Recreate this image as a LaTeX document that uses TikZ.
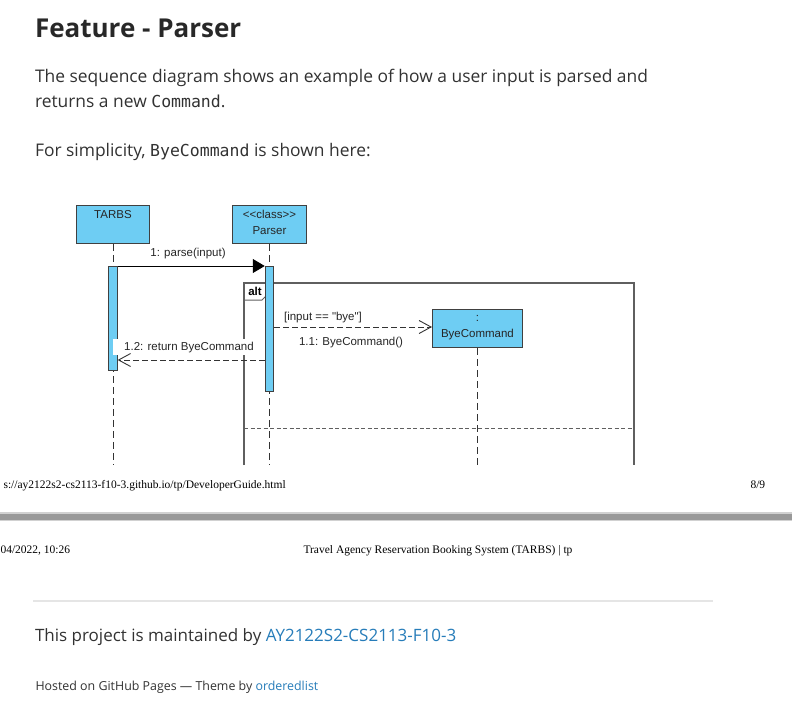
\documentclass[tikz,border=0pt]{standalone}
\usepackage{fontspec}
\setmainfont{Open Sans}
\newfontfamily\diagfont{Liberation Sans}
\newfontfamily\printfont{Liberation Serif}
\newfontfamily\codefont{DejaVu Sans Mono}
\usetikzlibrary{arrows.meta,positioning,calc}
\definecolor{lifeblue}{RGB}{110,205,243}
\definecolor{linkblue}{RGB}{38,124,185}
\definecolor{bodytext}{RGB}{50,50,50}
\definecolor{titletext}{RGB}{40,40,40}
\definecolor{framegray}{RGB}{95,95,95}

\begin{document}
\begin{tikzpicture}[x=1pt, y=-1pt,
    lifebox/.style={draw=black!75, fill=lifeblue, line width=0.9pt, inner sep=0pt, anchor=north west},
    actbox/.style={lifebox, minimum width=8.5pt},
    lifeline/.style={draw=black!80, line width=0.9pt, dash pattern=on 7pt off 4pt},
    dfont/.style={font=\diagfont\fontsize{11.5}{13}\selectfont, text=black!85},
    callmsg/.style={draw=black, line width=0.9pt, -{Triangle[length=12pt,width=14pt]}},
    replymsg/.style={draw=black!80, line width=0.9pt, dash pattern=on 6pt off 3pt, -{Straight Barb[length=12pt,width=13pt]}},
    bodyline/.style={anchor=base west, text=bodytext, font=\fontsize{17.4}{21}\selectfont},
    printline/.style={anchor=base west, text=black, font=\printfont\fontsize{11.5}{13}\selectfont}]
    \useasboundingbox (0,0) rectangle (792,706);

    % page text above the diagram
    \node[anchor=base west, text=titletext, font=\bfseries\fontsize{26}{31}\selectfont] (title) at (31.5,38) {Feature - Parser};
    \node[bodyline] (para1) at (31.5,83) {The sequence diagram shows an example of how a user input is parsed and};
    \node[bodyline] (para2) at (31.5,108) {returns a new {\codefont\fontsize{16.5}{20}\selectfont Command}.};
    \node[bodyline] (para3) at (31.5,157) {For simplicity, {\codefont\fontsize{16.5}{20}\selectfont ByeCommand} is shown here:};

    % sequence diagram
    \coordinate (cut) at (0,465);
    \draw[framegray, line width=1.1pt] (244,465) -- (244,283) -- (634,283) -- (634,465);
    \draw[framegray, line width=1pt] (244,300) -- (262,300) -- (268,294) -- (268,283);
    \node[font=\diagfont\bfseries\fontsize{11.5}{13}\selectfont, anchor=base] (altlbl) at (255,295) {alt};
    \draw[framegray, line width=1pt, dash pattern=on 4pt off 2.5pt] (244,428) -- (634,428);

    \node[lifebox, minimum width=73pt, minimum height=38pt] (tarbs) at (76,205) {};
    \node[lifebox, minimum width=74pt, minimum height=38pt] (parser) at (232,205) {};
    \node[lifebox, minimum width=90pt, minimum height=38pt] (bye) at (432,309) {};
    \node[dfont, anchor=base] at (tarbs.north |- 0,218) {TARBS};
    \node[dfont, anchor=base] at (parser.north |- 0,218) {<<class>>};
    \node[dfont, anchor=base] at (parser.north |- 0,234) {Parser};
    \node[dfont, anchor=base] at (bye.north |- 0,321) {:};
    \node[dfont, anchor=base] at (bye.north |- 0,337) {ByeCommand};

    \draw[lifeline] (tarbs.south) -- (tarbs.south |- cut);
    \draw[lifeline] (parser.south) -- (parser.south |- cut);
    \draw[lifeline] (bye.south) -- (bye.south |- cut);

    \node[actbox, minimum height=104pt] (tarbsact) at (108.25,266) {};
    \node[actbox, minimum height=125pt] (parseract) at (264.75,266) {};

    \draw[callmsg] (tarbsact.north east) -- (parseract.north west);
    \node[dfont, anchor=base] (parselbl) at (188,256) {1: parse(input)};

    \coordinate (newmsg) at (0,327);
    \draw[replymsg] (parseract.east |- newmsg) -- (bye.west |- newmsg);
    \node[dfont, anchor=base] (guard) at (323,320) {[input == "bye"]};
    \node[dfont, anchor=base] (newlbl) at (351,345) {1.1: ByeCommand()};

    \coordinate (retmsg) at (0,360);
    \node[dfont, anchor=base, fill=white, minimum width=152pt, inner ysep=2.5pt] (retlbl) at (189,350) {1.2: return ByeCommand};
    \draw[replymsg] (parseract.west |- retmsg) -- (tarbsact.east |- retmsg);

    % printed page break
    \node[printline] (url) at (0,488) {s://ay2122s2-cs2113-f10-3.github.io/tp/DeveloperGuide.html};
    \node[printline] (pageno) at (747,488) {8/9};
    \fill[black!18] (0,512) rectangle (792,521);
    \fill[black!40] (0,513.5) rectangle (792,519.5);
    \node[printline] (stamp) at (-3,553) {04/2022, 10:26};
    \node[printline] (header) at (300,553) {Travel Agency Reservation Booking System (TARBS) | tp};

    % page footer
    \fill[black!10] (33,600) rectangle (713,602);
    \node[bodyline, font=\fontsize{17}{21}\selectfont] (maint) at (31.5,641) {This project is maintained by \textcolor{linkblue}{AY2122S2-CS2113-F10-3}};
    \node[bodyline, font=\fontsize{12.4}{15}\selectfont] (hosted) at (32,690) {Hosted on GitHub Pages — Theme by \textcolor{linkblue}{orderedlist}};
\end{tikzpicture}
\end{document}
